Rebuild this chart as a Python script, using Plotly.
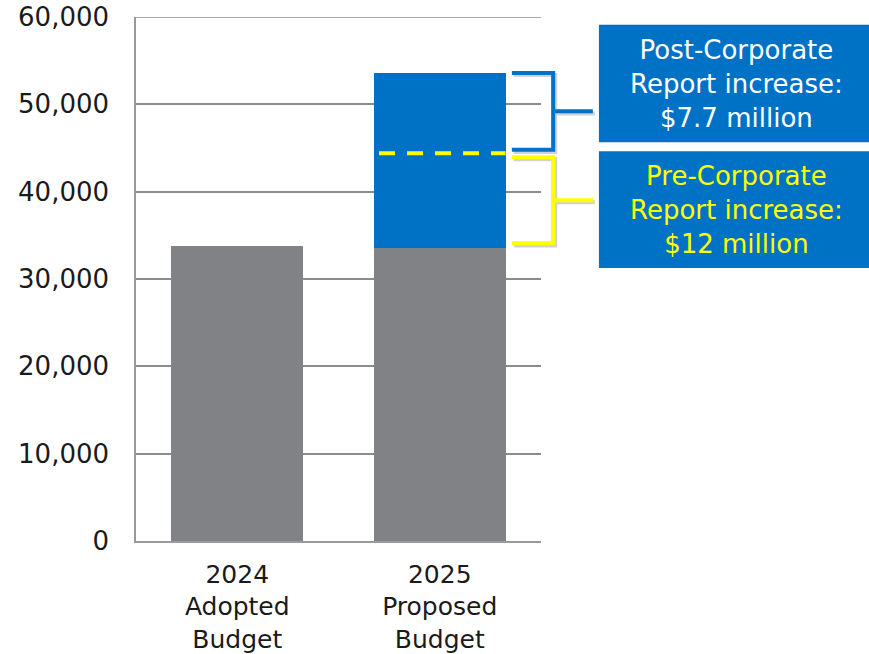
import plotly.graph_objects as go

categories = ["2024<br>Adopted<br>Budget", "2025<br>Proposed<br>Budget"]
base_values = [33800, 33600]          # gray: base budget
pre_corp_top = [None, 44400]          # top after pre-corporate-report increase
post_corp_top = [None, 53600]         # top after post-corporate-report increase
y_ticks = [0, 10000, 20000, 30000, 40000, 50000, 60000]
box_texts = ["Post-Corporate<br>Report increase:<br>$7.7 million",
             "Pre-Corporate<br>Report increase:<br>$12 million"]

GRAY = "#808285"
BLUE = "#0072C6"
YELLOW = "#FFFF00"
FONT = "DejaVu Sans"

pre_inc = [0 if p is None else p - b for p, b in zip(pre_corp_top, base_values)]
post_inc = [0 if q is None else q - p for q, p in zip(post_corp_top, pre_corp_top)]

bar_w = 0.65
fig = go.Figure()
fig.add_bar(x=categories, y=base_values, marker_color=GRAY, width=bar_w,
            marker_line_width=0)
fig.add_bar(x=categories, y=pre_inc, marker_color=BLUE, width=bar_w,
            marker_line_width=0)
fig.add_bar(x=categories, y=post_inc, marker_color=BLUE, width=bar_w,
            marker_line_width=0)

shapes = []
# top gridline at 60,000
shapes.append(dict(type="line", xref="paper", yref="y", x0=0, x1=1,
                   y0=y_ticks[-1], y1=y_ticks[-1], layer="below",
                   line=dict(color="#8c8c8c", width=1.5)))
# dashed line at pre-corporate level on 2025 bar
shapes.append(dict(type="line", xref="x", yref="y",
                   x0=1 - bar_w / 2 + 0.025, x1=1 + bar_w / 2,
                   y0=pre_corp_top[1], y1=pre_corp_top[1],
                   line=dict(color=YELLOW, width=4, dash="16px,12px")))

def bracket(y_top, y_bot, color):
    xa, xb, xc = 0.928, 1.030, 1.128
    ym = (y_top + y_bot) / 2
    out = []
    for dx, dy, col in [(0.005, -250, "rgba(0,0,0,0.18)"), (0, 0, color)]:
        path = (f"M {xa+dx} {y_top+dy} L {xb+dx} {y_top+dy} L {xb+dx} {y_bot+dy} "
                f"L {xa+dx} {y_bot+dy} M {xb+dx} {ym+dy} L {xc+dx} {ym+dy}")
        out.append(dict(type="path", xref="paper", yref="y", path=path,
                        line=dict(color=col, width=4)))
    return out

shapes += bracket(post_corp_top[1], pre_corp_top[1] + 400, BLUE)
shapes += bracket(pre_corp_top[1] - 450, base_values[1] + 500, YELLOW)

# annotation boxes
boxes = [(0.985, 0.761), (0.744, 0.521)]
for (t, b) in boxes:
    shapes.append(dict(type="rect", xref="paper", yref="paper",
                       x0=1.143, x1=1.81, y0=b, y1=t,
                       fillcolor=BLUE, line_width=0, layer="above"))

annotations = []
for (t, b), txt, col in zip(boxes, box_texts, ["white", YELLOW]):
    annotations.append(dict(xref="paper", yref="paper", x=(1.143 + 1.81) / 2 + 0.005,
                            y=(t + b) / 2, text=txt, showarrow=False,
                            font=dict(family=FONT, size=26, color=col),
                            xanchor="center", yanchor="middle", align="center"))

fig.update_layout(
    barmode="stack",
    width=869, height=654,
    margin=dict(l=136, r=328, t=17, b=113, autoexpand=False),
    paper_bgcolor="white", plot_bgcolor="white",
    showlegend=False,
    shapes=shapes, annotations=annotations,
    font=dict(family=FONT, size=26, color="#1a1a1a"),
    bargap=0.35,
)
fig.update_yaxes(range=[0, 60000], tickvals=y_ticks, tickformat=",",
                 showgrid=True, gridcolor="#8c8c8c", gridwidth=1.5,
                 showline=True, linecolor="#9a9a9a", linewidth=1.5,
                 zeroline=False, ticks="", ticklabelstandoff=20,
                 ticklabeloverflow="allow",
                 tickfont=dict(family=FONT, size=26, color="#1a1a1a"))
fig.update_xaxes(showline=True, linecolor="#9a9a9a", linewidth=1.5,
                 showgrid=False, ticks="", ticklabelstandoff=10,
                 tickfont=dict(family=FONT, size=25, color="#1a1a1a"))

fig.write_html("out.html",
               config={"displayModeBar": False},
               post_script="document.body.style.margin='0';")
